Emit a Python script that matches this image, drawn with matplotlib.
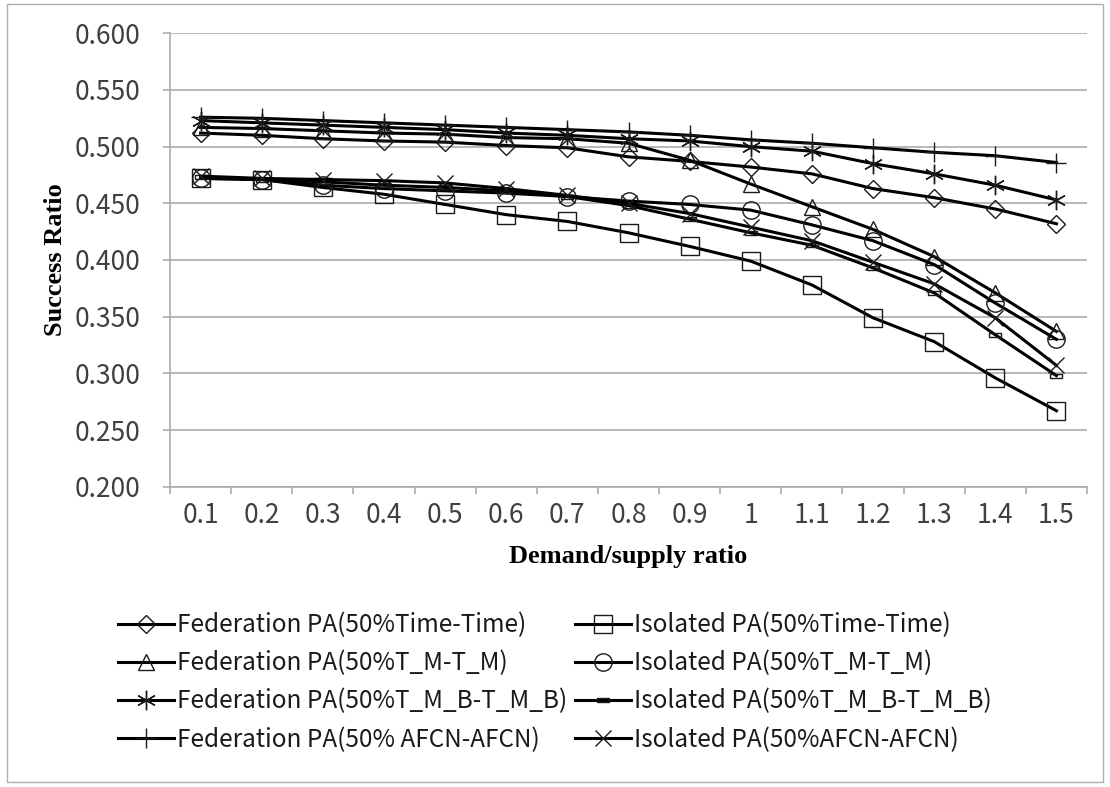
import matplotlib
matplotlib.use("Agg")
import matplotlib.pyplot as plt
from matplotlib.patches import Rectangle
from matplotlib.ticker import FixedLocator, FormatStrFormatter

categories = ["0.1", "0.2", "0.3", "0.4", "0.5", "0.6", "0.7", "0.8",
              "0.9", "1", "1.1", "1.2", "1.3", "1.4", "1.5"]

fed_time = [0.512, 0.510, 0.507, 0.505, 0.504, 0.501, 0.499, 0.491,
            0.487, 0.482, 0.476, 0.463, 0.455, 0.445, 0.432]
fed_tm = [0.517, 0.516, 0.514, 0.512, 0.511, 0.508, 0.507, 0.503,
          0.488, 0.467, 0.447, 0.427, 0.403, 0.371, 0.337]
fed_tmb = [0.523, 0.521, 0.519, 0.517, 0.515, 0.512, 0.510, 0.507,
           0.505, 0.500, 0.496, 0.485, 0.476, 0.466, 0.453]
fed_afcn = [0.526, 0.525, 0.523, 0.521, 0.519, 0.517, 0.515, 0.513,
            0.510, 0.506, 0.503, 0.499, 0.495, 0.492, 0.486]
iso_time = [0.472, 0.471, 0.464, 0.458, 0.449, 0.440, 0.434, 0.424,
            0.412, 0.399, 0.378, 0.349, 0.328, 0.296, 0.267]
iso_tm = [0.472, 0.471, 0.466, 0.463, 0.461, 0.459, 0.456, 0.452,
          0.449, 0.444, 0.431, 0.417, 0.396, 0.362, 0.330]
iso_tmb = [0.473, 0.471, 0.469, 0.466, 0.464, 0.461, 0.456, 0.448,
           0.436, 0.424, 0.413, 0.393, 0.371, 0.334, 0.298]
iso_afcn = [0.474, 0.472, 0.471, 0.470, 0.468, 0.463, 0.457, 0.450,
            0.441, 0.429, 0.417, 0.398, 0.379, 0.349, 0.307]

labels = ["Federation PA(50%Time-Time)", "Isolated PA(50%Time-Time)",
          "Federation PA(50%T_M-T_M)", "Isolated PA(50%T_M-T_M)",
          "Federation PA(50%T_M_B-T_M_B)", "Isolated PA(50%T_M_B-T_M_B)",
          "Federation PA(50% AFCN-AFCN)", "Isolated PA(50%AFCN-AFCN)"]

y_ticks = [0.2, 0.25, 0.3, 0.35, 0.4, 0.45, 0.5, 0.55, 0.6]

sans = ["Noto Sans CJK SC", "DejaVu Sans"]
serif = ["Liberation Serif", "DejaVu Serif"]
grid_c = "#a6a6a6"
text_c = "#404040"

dash_marker = [(-1, -0.28), (1, -0.28), (1, 0.28), (-1, 0.28), (-1, -0.28)]

fig = plt.figure(figsize=(11.1, 7.87), dpi=100)
W, H = 1110, 787
ax = fig.add_axes([170 / W, 1 - 486.7 / H, (1087 - 170) / W, (486.7 - 33.3) / H])

x = list(range(len(categories)))
series = [
    (fed_time, labels[0], dict(marker="D", ms=9.5)),
    (fed_tm, labels[2], dict(marker="^", ms=12)),
    (fed_tmb, labels[4], dict(marker=(6, 2, 0), ms=14)),
    (fed_afcn, labels[6], dict(marker="+", ms=14)),
    (iso_time, labels[1], dict(marker="s", ms=13)),
    (iso_tm, labels[3], dict(marker="o", ms=12.5)),
    (iso_tmb, labels[5], dict(marker=dash_marker, ms=9)),
    (iso_afcn, labels[7], dict(marker="x", ms=11)),
]
handles = []
for vals, lab, mk in series:
    h, = ax.plot(x, vals, color="black", lw=2.2, label=lab,
                 mfc="none", mec="#1a1a1a", mew=1.0, **mk)
    handles.append(h)

ax.set_xlim(-0.5, len(categories) - 0.5)
ax.set_ylim(0.2, 0.6)
ax.set_yticks(y_ticks)
ax.yaxis.set_major_formatter(FormatStrFormatter("%.3f"))
ax.set_xticks(x)
ax.set_xticklabels(categories)
ax.xaxis.set_minor_locator(FixedLocator([i - 0.5 for i in range(len(categories) + 1)]))

ax.grid(axis="y", color=grid_c, lw=1.1)
ax.set_axisbelow(True)
for s in ["top", "right"]:
    ax.spines[s].set_visible(False)
for s in ["left", "bottom"]:
    ax.spines[s].set_color(grid_c)
    ax.spines[s].set_linewidth(1.1)

ax.tick_params(axis="y", length=5, width=1.1, color=grid_c, pad=16,
               labelsize=19, labelcolor=text_c)
ax.tick_params(axis="x", which="major", length=0, pad=11,
               labelsize=19, labelcolor=text_c)
ax.tick_params(axis="x", which="minor", length=5, width=1.1, color=grid_c)
for t in ax.get_xticklabels() + ax.get_yticklabels():
    t.set_fontfamily(sans)

ax.set_xlabel("Demand/supply ratio", fontsize=19, fontweight="bold",
              family=serif, color="black")
ax.xaxis.set_label_coords(0.5, -0.128)
ax.set_ylabel("Success Ratio", fontsize=19, fontweight="bold",
              family=serif, color="black")
ax.yaxis.set_label_coords(-0.112, 0.5)

leg = fig.legend(handles=handles, loc="upper center",
                 bbox_to_anchor=(0.5, 1 - 600 / H), ncol=2,
                 frameon=False, prop={"family": sans, "size": 17.5},
                 handlelength=2.3, handletextpad=0.15, columnspacing=0.3,
                 labelspacing=0.5, borderpad=0, numpoints=1)
for t in leg.get_texts():
    t.set_color("#1a1a1a")

fig.patches.append(Rectangle((7 / W, 1 - 782 / H), (1103 - 7) / W, (782 - 4) / H,
                             transform=fig.transFigure, fill=False,
                             edgecolor="#b0b0b0", lw=1.0))

fig.savefig("out.png", dpi=100)
